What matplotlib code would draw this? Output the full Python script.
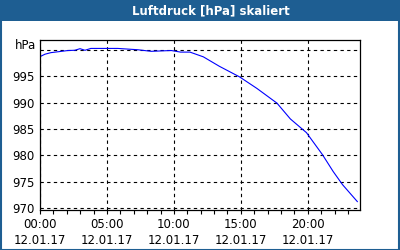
import numpy as np
import matplotlib.pyplot as plt
from matplotlib.patches import Rectangle
from matplotlib.ticker import MultipleLocator

# hours since 00:00 and pressure in hPa
hours = [0.05, 0.37, 0.82, 2.09, 2.6, 2.99, 3.36, 3.8, 5.8, 7.3, 8.3, 9.8,
         10.5, 11.2, 12.2, 13.4, 14.9, 16.2, 17.7, 18.7, 19.9, 21.1, 21.9,
         22.6, 23.7]
pressure = [998.8, 999.2, 999.5, 999.9, 999.95, 1000.25, 999.95, 1000.3,
            1000.3, 1000.05, 999.75, 999.9, 999.6, 999.6, 998.7, 996.9,
            994.9, 992.7, 989.9, 986.9, 984.3, 980.1, 976.9, 974.4, 971.2]

y_ticks = [970, 975, 980, 985, 990, 995, 1000]
y_labels = ['970', '975', '980', '985', '990', '995', '']
x_ticks = [0, 5, 10, 15, 20]
x_labels = ['00:00\n12.01.17', '05:00\n12.01.17', '10:00\n12.01.17',
            '15:00\n12.01.17', '20:00\n12.01.17']

title_col = '#1e5e92'

fig = plt.figure(figsize=(4, 2.5), dpi=100)
fig.patch.set_facecolor('white')

# title bar and frame
fig.patches.append(Rectangle((0, 1 - 21 / 250), 1, 21 / 250, transform=fig.transFigure,
                             facecolor=title_col, edgecolor='none', zorder=0))
fig.patches.append(Rectangle((0.5 / 400, 0.5 / 250), 1 - 1.5 / 400, 1 - 1.5 / 250,
                             transform=fig.transFigure, facecolor='none',
                             edgecolor=title_col, lw=1.5, zorder=0))
fig.text(211 / 400, 1 - 11 / 250, 'Luftdruck [hPa] skaliert', color='white',
         fontsize=8.5, fontweight='bold', ha='center', va='center')

ax = fig.add_axes([40 / 400, 1 - 210 / 250, 320 / 400, 170 / 250])
ax.plot(hours, pressure, color='#0000ff', lw=0.8)

ax.set_xlim(0, 23.9)
ax.set_ylim(969.6, 1001.9)
ax.set_yticks(y_ticks)
ax.set_yticklabels(y_labels)
ax.set_xticks(x_ticks)
ax.set_xticklabels(x_labels, linespacing=1.25)
ax.xaxis.set_minor_locator(MultipleLocator(1))

ax.grid(True, color='black', linestyle=(0, (3, 3)), lw=0.8)
ax.tick_params(axis='y', length=0, pad=4, labelsize=8.5)
ax.tick_params(axis='x', which='both', direction='out', length=3, width=0.8,
               pad=3, labelsize=8.5)
for s in ax.spines.values():
    s.set_linewidth(0.9)

ax.text(-0.012, 1000.8, 'hPa', transform=ax.get_yaxis_transform(),
        ha='right', va='center', fontsize=8.5)

fig.savefig('out.png', dpi=100)
